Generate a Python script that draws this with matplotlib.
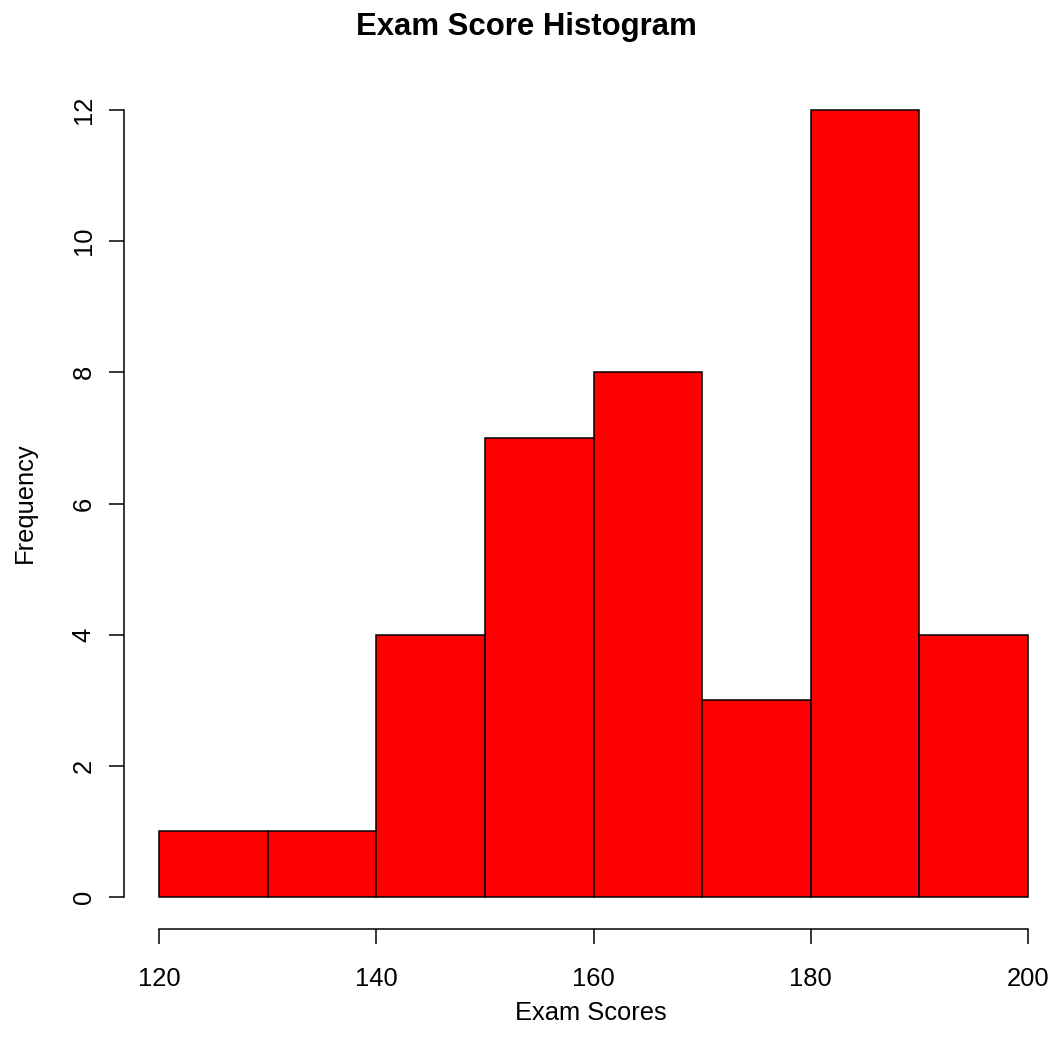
import matplotlib.pyplot as plt
import numpy as np

plt.rcParams['font.family'] = ['Liberation Sans', 'DejaVu Sans']

# exam score bins and their counts
bin_edges = [120, 130, 140, 150, 160, 170, 180, 190, 200]
counts = [1, 1, 4, 7, 8, 3, 12, 4]
x_ticks = [120, 140, 160, 180, 200]
y_ticks = [0, 2, 4, 6, 8, 10, 12]

W, H = 1052, 1047
fig = plt.figure(figsize=(W / 100, H / 100), dpi=100)

# R-style plot region: limits padded 4% beyond the data range
xlo, xhi = 120 - 3.2, 200 + 3.2
ylo, yhi = 0 - 0.48, 12 + 0.48
left_px, right_px = 124.2, 1062.8
top_px, bottom_px = 78.5, 928.5
ax = fig.add_axes([left_px / W, (H - bottom_px) / H,
                   (right_px - left_px) / W, (bottom_px - top_px) / H])
ax.set_xlim(xlo, xhi)
ax.set_ylim(ylo, yhi)

widths = np.diff(bin_edges)
ax.bar(bin_edges[:-1], counts, width=widths, align='edge',
       color='#ff0000', edgecolor='black', linewidth=1.1)

for s in ['top', 'right']:
    ax.spines[s].set_visible(False)
ax.spines['left'].set_bounds(0, 12)
ax.spines['bottom'].set_bounds(120, 200)
for s in ['left', 'bottom']:
    ax.spines[s].set_linewidth(1.1)

ax.set_xticks(x_ticks)
ax.set_yticks(y_ticks)
ax.tick_params(axis='both', length=10.5, width=1.1, labelsize=18.4)
ax.tick_params(axis='x', pad=17)
ax.tick_params(axis='y', pad=10, labelrotation=90)
for lab in ax.get_yticklabels():
    lab.set_va('center')

fig.text(0.5, 1 - 27 / H, 'Exam Score Histogram', ha='center', va='center',
         fontsize=22.4, fontweight='bold')
fig.text(591 / W, 1 - 1013 / H, 'Exam Scores', ha='center', va='center',
         fontsize=18.4)
fig.text(25 / W, 1 - 503 / H, 'Frequency', ha='center', va='center',
         fontsize=18.4, rotation=90)

fig.savefig('out.png', dpi=100)
